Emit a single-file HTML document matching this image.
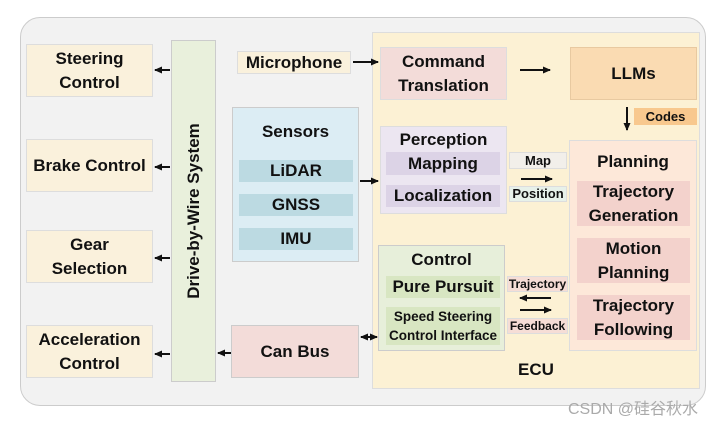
<!DOCTYPE html>
<html><head><style>
body{margin:0;width:720px;height:423px;background:#fff;position:relative;overflow:hidden;font-family:"Liberation Sans","Noto Sans CJK SC",sans-serif;font-weight:bold;color:#111}
.b{position:absolute;box-sizing:border-box;display:flex;align-items:center;justify-content:center;text-align:center;line-height:24px;font-size:17px}
.l{background:#faf1dc;border:1px solid #ddd}
.s{font-size:13px;line-height:16px}
svg{position:absolute;left:0;top:0}
</style></head><body>
<div class="b" style="left:20px;top:17px;width:686px;height:389px;background:#f2f2f2;border:1px solid #ccc;border-radius:20px"></div>
<div class="b l" style="left:26px;top:44px;width:127px;height:53px">Steering<br>Control</div>
<div class="b l" style="left:26px;top:139px;width:127px;height:53px">Brake Control</div>
<div class="b l" style="left:26px;top:230px;width:127px;height:53px">Gear<br>Selection</div>
<div class="b l" style="left:26px;top:325px;width:127px;height:53px">Acceleration<br>Control</div>
<div class="b" style="left:171px;top:40px;width:45px;height:342px;background:#e9f0dc;border:1px solid #ccc"><span style="transform:rotate(-90deg);white-space:nowrap;display:block">Drive-by-Wire System</span></div>
<div class="b l" style="left:237px;top:51px;width:114px;height:23px">Microphone</div>
<div class="b" style="left:232px;top:107px;width:127px;height:155px;background:#dcedf4;border:1px solid #ccc;align-items:flex-start;padding-top:12px">Sensors</div>
<div class="b" style="left:239px;top:160px;width:114px;height:22px;background:#bcdae2">LiDAR</div>
<div class="b" style="left:239px;top:194px;width:114px;height:22px;background:#bcdae2">GNSS</div>
<div class="b" style="left:239px;top:228px;width:114px;height:22px;background:#bcdae2">IMU</div>
<div class="b" style="left:231px;top:325px;width:128px;height:53px;background:#f3dcd9;border:1px solid #ccc">Can Bus</div>
<div class="b" style="left:372px;top:32px;width:328px;height:357px;background:#fcf1d4;border:1px solid #ddd;align-items:flex-end;padding-bottom:6px">ECU</div>
<div class="b" style="left:380px;top:47px;width:127px;height:53px;background:#f3dcd9;border:1px solid #ddd">Command<br>Translation</div>
<div class="b" style="left:570px;top:47px;width:127px;height:53px;background:#fadbb2;border:1px solid #e8c9a0">LLMs</div>
<div class="b s" style="left:634px;top:108px;width:63px;height:17px;background:#f8c88e">Codes</div>
<div class="b" style="left:380px;top:126px;width:127px;height:88px;background:#ece6f1;border:1px solid #ddd;align-items:flex-start;padding-top:1px">Perception</div>
<div class="b" style="left:386px;top:152px;width:114px;height:23px;background:#dcd3e6">Mapping</div>
<div class="b" style="left:386px;top:185px;width:114px;height:22px;background:#dcd3e6">Localization</div>
<div class="b s" style="left:509px;top:152px;width:58px;height:17px;background:#f2efea;border:1px solid #ddd">Map</div>
<div class="b s" style="left:509px;top:186px;width:58px;height:16px;background:#e7f1ea;border:1px solid #ddd">Position</div>
<div class="b" style="left:569px;top:140px;width:128px;height:211px;background:#fde8d9;border:1px solid #ddd;align-items:flex-start;padding-top:9px">Planning</div>
<div class="b" style="left:577px;top:181px;width:113px;height:45px;background:#f3d2cc">Trajectory<br>Generation</div>
<div class="b" style="left:577px;top:238px;width:113px;height:45px;background:#f3d2cc">Motion<br>Planning</div>
<div class="b" style="left:577px;top:295px;width:113px;height:45px;background:#f3d2cc">Trajectory<br>Following</div>
<div class="b" style="left:378px;top:245px;width:127px;height:106px;background:#e7efda;border:1px solid #ccc;align-items:flex-start;padding-top:2px">Control</div>
<div class="b" style="left:386px;top:276px;width:114px;height:22px;background:#d8e6c2">Pure Pursuit</div>
<div class="b" style="left:386px;top:307px;width:114px;height:38px;background:#d8e6c2;font-size:13.5px;line-height:19px">Speed Steering<br>Control Interface</div>
<div class="b s" style="left:507px;top:276px;width:61px;height:16px;background:#f6ddd6;border:1px solid #ddd;font-size:12px">Trajectory</div>
<div class="b s" style="left:507px;top:318px;width:61px;height:16px;background:#f6ddd6;border:1px solid #ddd;font-size:12px">Feedback</div>
<svg width="720" height="423">
<defs><marker id="a" markerUnits="userSpaceOnUse" markerWidth="8" markerHeight="8" refX="7" refY="4" orient="auto-start-reverse"><path d="M0,0.5L8,4L0,7.5z" fill="#111"/></marker></defs>
<g stroke="#111" stroke-width="2" marker-end="url(#a)">
<line x1="170" y1="70" x2="155" y2="70"/><line x1="170" y1="167" x2="155" y2="167"/>
<line x1="170" y1="258" x2="155" y2="258"/><line x1="170" y1="354" x2="155" y2="354"/>
<line x1="231" y1="353" x2="218" y2="353"/>
<line x1="353" y1="62" x2="378" y2="62"/>
<line x1="520" y1="70" x2="550" y2="70"/>
<line x1="627" y1="107" x2="627" y2="130"/>
<line x1="360" y1="181" x2="378" y2="181"/>
<line x1="521" y1="179" x2="552" y2="179"/>
<line x1="551" y1="298" x2="520" y2="298"/>
<line x1="520" y1="310" x2="551" y2="310"/>
<line x1="361" y1="337" x2="377" y2="337" marker-start="url(#a)"/>
</g></svg>
<div style="position:absolute;left:568px;top:395px;font-size:16px;font-weight:normal;color:#aaa">CSDN @硅谷秋水</div>
</body></html>
